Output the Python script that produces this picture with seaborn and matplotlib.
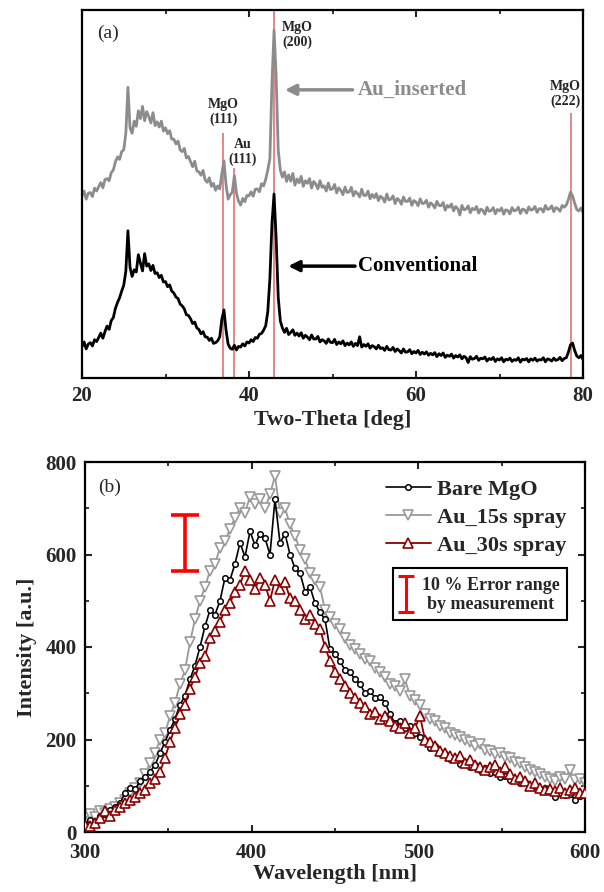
import numpy as np
import pandas as pd
import seaborn as sns
import matplotlib
matplotlib.use("Agg")
import matplotlib.pyplot as plt
from matplotlib.ticker import MultipleLocator
from matplotlib.patches import Rectangle

# ---------------- data : panel (a) XRD ----------------
two_theta_start, two_theta_step = 20.0, 0.25
conventional = [
    8.5, 9.8, 7.9, 9.2, 9.6, 8.7, 10.4, 9.9, 11.0, 12.2, 10.8, 12.6,
    14.1, 13.2, 15.6, 16.4, 18.9, 20.5, 21.8, 23.6, 25.2, 29.0, 40.0, 30.1,
    27.6, 29.4, 28.8, 33.5, 31.2, 29.1, 33.8, 30.4, 31.0, 29.2, 30.6, 28.4,
    28.6, 27.3, 27.9, 26.1, 26.2, 24.8, 25.3, 23.6, 23.1, 22.0, 21.6, 20.1,
    19.6, 18.8, 17.2, 17.0, 16.1, 14.8, 15.2, 13.6, 13.2, 12.0, 12.6, 11.2,
    11.1, 10.2, 10.8, 9.4, 9.6, 10.1, 11.2, 16.0, 18.5, 13.0, 9.2, 8.1,
    7.8, 8.9, 7.6, 8.6, 8.4, 9.3, 8.7, 9.8, 9.5, 10.4, 9.9, 11.0,
    10.8, 11.9, 12.1, 13.0, 14.2, 18.0, 27.0, 42.0, 50.0, 38.0, 22.0, 15.5,
    13.6, 12.4, 13.5, 11.8, 12.4, 13.1, 11.6, 12.2, 11.4, 12.3, 10.8, 11.6,
    11.1, 10.4, 11.7, 10.6, 10.6, 11.3, 9.8, 10.4, 10.1, 9.4, 10.6, 9.7,
    9.6, 10.5, 9.1, 9.8, 9.3, 10.1, 8.8, 9.5, 9.0, 9.8, 8.6, 9.4,
    8.8, 11.2, 8.4, 9.1, 8.6, 9.3, 8.1, 8.8, 8.5, 7.9, 8.9, 8.0,
    8.2, 7.5, 8.6, 7.7, 7.6, 8.3, 7.2, 7.9, 7.4, 6.8, 7.9, 7.0,
    7.1, 7.7, 6.6, 7.2, 6.8, 7.5, 6.4, 7.0, 6.5, 7.1, 6.2, 6.7,
    6.3, 6.9, 5.8, 6.6, 6.1, 6.8, 5.6, 6.2, 5.9, 6.5, 5.4, 6.1,
    5.7, 6.3, 5.2, 5.9, 5.5, 4.2, 5.8, 5.1, 5.3, 5.9, 4.8, 5.4,
    5.2, 5.7, 4.6, 5.3, 5.0, 5.6, 4.5, 5.2, 4.9, 5.5, 4.4, 5.1,
    4.9, 5.4, 4.5, 5.0, 4.8, 5.5, 4.3, 5.1, 4.9, 5.3, 4.4, 5.2,
    4.8, 5.4, 4.6, 5.0, 4.9, 5.5, 4.4, 5.2, 5.0, 4.6, 5.4, 4.8,
    5.0, 5.6, 4.7, 5.3, 5.5, 7.0, 9.0, 9.5, 7.5, 6.0, 5.5, 6.1,
    5.0,
]
au_inserted = [
    49.5, 50.8, 48.6, 50.2, 50.4, 49.3, 51.6, 50.8, 52.0, 53.1, 51.7, 53.9,
    54.2, 53.6, 55.8, 56.5, 58.7, 60.1, 59.4, 61.5, 62.0, 66.5, 79.0, 68.0,
    66.5, 69.8, 68.4, 72.6, 70.5, 73.8, 69.9, 72.4, 71.0, 69.3, 72.1, 68.6,
    69.6, 68.2, 69.8, 67.1, 68.0, 66.4, 67.2, 64.9, 64.9, 63.6, 64.4, 62.0,
    61.5, 62.4, 59.8, 60.2, 58.8, 57.4, 58.9, 56.3, 56.0, 55.1, 56.4, 53.8,
    53.2, 54.4, 52.1, 52.9, 51.0, 52.2, 51.4, 55.5, 59.0, 52.5, 48.6, 49.8,
    50.5, 55.0, 50.2, 48.0, 47.0, 48.8, 47.9, 49.6, 49.5, 50.6, 49.4, 51.3,
    51.4, 50.6, 52.8, 52.2, 54.0, 56.5, 59.6, 80.0, 94.5, 82.0, 62.0, 56.5,
    54.6, 56.0, 53.4, 55.2, 53.5, 55.6, 52.4, 54.1, 53.0, 54.8, 52.1, 53.6,
    52.9, 54.2, 51.6, 53.4, 52.7, 51.4, 53.6, 51.8, 52.2, 50.8, 53.0, 51.2,
    51.4, 52.6, 50.3, 51.7, 51.0, 49.8, 51.9, 50.4, 50.6, 51.8, 49.5, 50.7,
    50.1, 49.2, 51.3, 49.6, 49.6, 50.8, 48.7, 49.9, 49.0, 50.1, 48.2, 49.4,
    48.9, 47.8, 50.0, 48.4, 48.6, 49.5, 47.4, 48.8, 48.3, 47.2, 49.2, 48.0,
    48.0, 48.9, 46.9, 48.2, 47.8, 46.8, 48.7, 47.4, 47.5, 48.3, 46.4, 47.6,
    47.1, 46.2, 48.0, 46.9, 46.8, 47.7, 45.6, 46.9, 46.4, 47.3, 45.4, 46.6,
    46.0, 44.3, 46.9, 45.7, 45.9, 46.8, 44.9, 46.1, 45.7, 46.6, 44.8, 45.9,
    45.6, 44.5, 46.4, 45.3, 45.5, 46.3, 44.6, 45.8, 45.4, 46.2, 44.5, 45.7,
    45.5, 44.6, 46.3, 45.4, 45.6, 46.4, 44.7, 45.9, 45.7, 44.8, 46.5, 45.6,
    45.8, 46.6, 45.0, 46.0, 46.0, 45.1, 46.9, 45.8, 46.0, 46.8, 45.2, 46.3,
    46.0, 45.3, 46.9, 46.4, 47.0, 48.5, 50.5, 49.5, 47.5, 45.8, 45.4, 46.2,
    45.0,
]
peak_names = ["MgO\n(111)", "Au\n(111)", "MgO\n(200)", "MgO\n(222)"]
peak_pos = [36.9, 38.2, 42.95, 78.6]
peak_line_top = [66.6, 57.1, 100.0, 72.0]

# ---------------- data : panel (b) PL ----------------
wl_start, wl_stop, wl_step = 300, 600, 3
bare_mgo = [
    18, 25, 22, 35, 40, 48, 55, 62, 85, 95, 92, 110, 118, 130, 145, 170,
    195, 220, 245, 275, 295, 330, 360, 400, 445, 480, 470, 500, 550, 545,
    580, 625, 595, 650, 620, 645, 635, 600, 720, 625, 645, 600, 570, 560,
    520, 530, 495, 475, 460, 395, 385, 370, 350, 345, 330, 320, 300, 305,
    290, 292, 280, 255, 235, 240, 225, 230, 215, 205, 200, 182, 185, 170,
    168, 158, 160, 148, 152, 140, 145, 135, 138, 128, 130, 120, 122, 112,
    115, 105, 108, 98, 100, 92, 95, 88, 75, 85, 80, 82, 70, 78, 80,
]
au_15s = [
    35, 38, 32, 45, 42, 50, 55, 62, 70, 85, 95, 105, 125, 150, 170, 200,
    215, 250, 280, 320, 350, 410, 460, 500, 530, 565, 580, 615, 630, 655,
    680, 700, 690, 725, 710, 720, 700, 730, 770, 690, 700, 665, 640, 610,
    590, 560, 545, 530, 480, 465, 450, 440, 420, 405, 395, 385, 375, 370,
    355, 345, 335, 320, 315, 305, 330, 295, 285, 275, 255, 245, 240, 230,
    225, 215, 210, 205, 198, 195, 185, 190, 178, 175, 168, 170, 162, 160,
    152, 150, 140, 135, 130, 125, 118, 115, 110, 120, 115, 135, 112, 115, 105,
]
au_30s = [
    15, 12, 20, 30, 45, 35, 48, 55, 62, 70, 75, 85, 90, 105, 115, 130,
    160, 195, 225, 255, 275, 310, 335, 365, 380, 420, 435, 455, 480, 495,
    520, 535, 565, 545, 525, 550, 535, 500, 545, 525, 540, 505, 500, 480,
    460, 470, 450, 440, 400, 370, 345, 330, 315, 300, 290, 280, 270, 255,
    260, 245, 250, 240, 230, 225, 235, 215, 225, 250, 200, 195, 185, 175,
    170, 165, 160, 165, 150, 155, 145, 140, 135, 140, 145, 130, 140, 125,
    115, 120, 110, 100, 105, 95, 90, 92, 88, 95, 85, 90, 95, 85, 85,
]
pl_labels = ["Bare MgO", "Au_15s spray", "Au_30s spray"]
err_x = [360]
err_y = [625]
err_half = [60]

# ---------------- style ----------------
sns.set_theme(style="ticks")
plt.rcParams["font.family"] = ["Liberation Serif", "DejaVu Serif"]
plt.rcParams["font.weight"] = "bold"
plt.rcParams["axes.labelweight"] = "bold"
plt.rcParams["axes.linewidth"] = 1.6
plt.rcParams["xtick.direction"] = "in"
plt.rcParams["ytick.direction"] = "in"

GRAY = "#8c8c8c"
DARKRED = "#8b0000"
LINERED = "#e06666"

fig = plt.figure(figsize=(6.04, 8.92), dpi=100)
ax1 = fig.add_axes([82 / 604, 1 - 378 / 892, 501 / 604, 368 / 892])
ax2 = fig.add_axes([85 / 604, 1 - 832 / 892, 500 / 604, 370 / 892])

# ---------------- panel (a) ----------------
tt = two_theta_start + two_theta_step * np.arange(len(conventional))
xrd = pd.DataFrame({"two_theta": tt, "Conventional": conventional,
                    "Au_inserted": au_inserted})
sns.lineplot(data=xrd, x="two_theta", y="Au_inserted", ax=ax1, color=GRAY,
             lw=2.0, estimator=None, sort=False)
sns.lineplot(data=xrd, x="two_theta", y="Conventional", ax=ax1, color="black",
             lw=2.0, estimator=None, sort=False)
ax1.vlines(peak_pos, 0, peak_line_top, color=LINERED, lw=1.1, zorder=1)

label_xy = [(36.9, 72.4), (39.2, 61.5), (45.75, 93.1), (77.9, 77.2)]
for name, (lx, ly) in zip(peak_names, label_xy):
    ax1.text(lx, ly, name, ha="center", va="center", fontsize=10,
             fontweight="bold", linespacing=1.15)

ax1.annotate("", xy=(44.3, 78.3), xytext=(52.4, 78.3),
             arrowprops=dict(arrowstyle="-|>", color=GRAY, lw=2.5,
                             mutation_scale=16, shrinkA=0, shrinkB=0))
ax1.text(53.0, 78.3, "Au_inserted", color=GRAY, fontsize=15,
         fontweight="bold", ha="left", va="center")
ax1.annotate("", xy=(44.7, 30.4), xytext=(52.7, 30.4),
             arrowprops=dict(arrowstyle="-|>", color="black", lw=2.5,
                             mutation_scale=16, shrinkA=0, shrinkB=0))
ax1.text(53.0, 30.4, "Conventional", color="black", fontsize=15,
         fontweight="bold", ha="left", va="center")
ax1.text(0.052, 0.9375, "(a)", transform=ax1.transAxes, fontsize=14,
         fontweight="normal", ha="center", va="center")

ax1.set_xlim(20, 80)
ax1.set_ylim(0, 100)
ax1.set_yticks([])
ax1.xaxis.set_major_locator(MultipleLocator(20))
ax1.xaxis.set_minor_locator(MultipleLocator(10))
ax1.tick_params(axis="x", which="major", top=True, bottom=True, length=5,
                width=1.5, labelsize=15, pad=6)
ax1.tick_params(axis="x", which="minor", top=True, bottom=True, length=3,
                width=1.3)
ax1.set_xlabel("Two-Theta [deg]", fontsize=16, fontweight="bold", labelpad=3)
ax1.set_ylabel("")

# ---------------- panel (b) ----------------
wl = np.arange(wl_start, wl_stop + 1, wl_step)
pl = pd.DataFrame({"wl": wl, pl_labels[0]: bare_mgo, pl_labels[1]: au_15s,
                   pl_labels[2]: au_30s})
sns.lineplot(data=pl, x="wl", y=pl_labels[1], ax=ax2, color="#999999", lw=1.3,
             marker="v", markersize=6.5, markerfacecolor="white",
             markeredgecolor="#999999", markeredgewidth=1.2,
             estimator=None, sort=False, label=pl_labels[1], zorder=2)
sns.lineplot(data=pl, x="wl", y=pl_labels[0], ax=ax2, color="black", lw=1.2,
             marker="o", markersize=4, markerfacecolor="white",
             markeredgecolor="black", markeredgewidth=1.1,
             estimator=None, sort=False, label=pl_labels[0], zorder=3)
sns.lineplot(data=pl, x="wl", y=pl_labels[2], ax=ax2, color=DARKRED, lw=1.3,
             marker="^", markersize=6.5, markerfacecolor="white",
             markeredgecolor=DARKRED, markeredgewidth=1.2,
             estimator=None, sort=False, label=pl_labels[2], zorder=4)

ax2.errorbar(err_x, err_y, yerr=err_half, fmt="none", ecolor="red",
             elinewidth=2.6, capsize=10, capthick=2.6, zorder=5)

h, l = ax2.get_legend_handles_labels()
order = [l.index(n) for n in pl_labels]
ax2.legend([h[i] for i in order], [l[i] for i in order], loc="upper right",
           bbox_to_anchor=(0.99, 0.99), frameon=False,
           prop=dict(family=["Liberation Serif"], weight="bold", size=16),
           handlelength=2.0, handletextpad=0.3, labelspacing=0.34,
           borderaxespad=0.2)

ax2.add_patch(Rectangle((0.616, 0.573), 0.348, 0.1405, transform=ax2.transAxes,
                        fill=False, edgecolor="black", lw=1.5, zorder=6))
ax2.plot([0.642, 0.642], [0.595, 0.692], transform=ax2.transAxes,
         color="red", lw=2.2, marker="_", markersize=11, markeredgewidth=2.2,
         zorder=7)
ax2.text(0.812, 0.641, "10 % Error range\nby measurement",
         transform=ax2.transAxes, ha="center", va="center", fontsize=13,
         fontweight="bold", linespacing=1.15, zorder=7)
ax2.text(0.05, 0.932, "(b)", transform=ax2.transAxes, fontsize=14,
         fontweight="normal", ha="center", va="center")

ax2.set_xlim(300, 600)
ax2.set_ylim(0, 800)
ax2.xaxis.set_major_locator(MultipleLocator(100))
ax2.xaxis.set_minor_locator(MultipleLocator(50))
ax2.yaxis.set_major_locator(MultipleLocator(200))
ax2.yaxis.set_minor_locator(MultipleLocator(100))
ax2.tick_params(axis="both", which="major", top=True, bottom=True, left=True,
                right=True, length=5, width=1.5, labelsize=15, pad=6)
ax2.tick_params(axis="x", which="major", pad=8)
ax2.tick_params(axis="both", which="minor", top=True, bottom=True, left=True,
                right=True, length=3, width=1.3)
ax2.set_xlabel("Wavelength [nm]", fontsize=16, fontweight="bold", labelpad=1)
ax2.set_ylabel("Intensity [a.u.]", fontsize=16, fontweight="bold", labelpad=6)

for ax in (ax1, ax2):
    for lab in ax.get_xticklabels() + ax.get_yticklabels():
        lab.set_fontweight("bold")
    for sp in ax.spines.values():
        sp.set_visible(True)
        sp.set_linewidth(1.6)
        sp.set_color("black")

fig.savefig("out.png", dpi=100)
